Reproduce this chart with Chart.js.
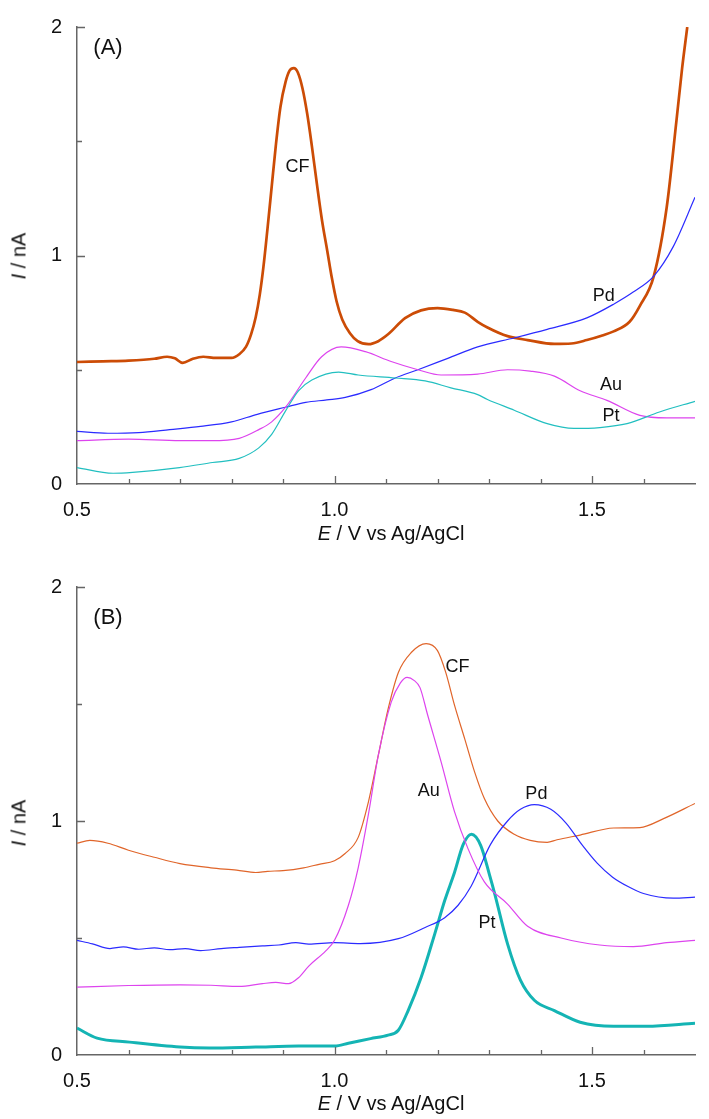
<!DOCTYPE html>
<html>
<head>
<meta charset="utf-8">
<script src="https://cdn.jsdelivr.net/npm/chart.js@4/dist/chart.umd.min.js"></script>
<style>
  html, body { margin: 0; padding: 0; background: #fff; }
  body { width: 709px; height: 1119px; position: relative; overflow: hidden; font-family: "Liberation Sans", Arial, sans-serif; color: #111; }
  .panel { position: absolute; left: 0; width: 709px; }
  .txt { position: absolute; transform: translate(-50%, -50%); white-space: nowrap; }
  .ytitle { transform: translate(-50%, -50%) rotate(-90deg); }
</style>
</head>
<body>
<div class="panel" style="top:0;height:560px"><canvas id="chartA" width="709" height="560"></canvas></div>
<div class="panel" style="top:560px;height:559px"><canvas id="chartB" width="709" height="559"></canvas></div>

<div class="txt" style="left:108px;top:47px;font-size:22px">(A)</div>
<div class="txt" style="left:108px;top:617px;font-size:22px">(B)</div>
<div class="txt" style="left:391px;top:533px;font-size:20px"><i>E</i> / V vs Ag/AgCl</div>
<div class="txt" style="left:391px;top:1103px;font-size:20px"><i>E</i> / V vs Ag/AgCl</div>
<div class="txt ytitle" style="left:19px;top:256px;font-size:20px"><i>I</i> / nA</div>
<div class="txt ytitle" style="left:19px;top:823px;font-size:20px"><i>I</i> / nA</div>

<script>
// axis ranges and tick labels
const xMin = 0.5, xMax = 1.7, xStep = 0.1;
const yMin = 0, yMax = 2, yStep = 0.5;
const xTickLabels = ['0.5', '1.0', '1.5'];
const yTickLabels = ['0', '1', '2'];

// panel A, [E (V), I (nA)]
const aCF = [[0.50,0.534],[0.55,0.537],[0.60,0.540],[0.65,0.548],[0.675,0.557],[0.69,0.550],[0.705,0.530],[0.725,0.548],[0.745,0.557],[0.77,0.552],[0.80,0.552],[0.815,0.568],[0.828,0.60],[0.838,0.655],[0.847,0.73],[0.855,0.83],[0.862,0.95],[0.870,1.12],[0.878,1.30],[0.886,1.48],[0.895,1.65],[0.905,1.76],[0.913,1.81],[0.921,1.82],[0.929,1.80],[0.938,1.73],[0.947,1.62],[0.956,1.48],[0.966,1.31],[0.976,1.15],[0.986,1.02],[0.995,0.90],[1.004,0.80],[1.015,0.72],[1.03,0.66],[1.045,0.625],[1.066,0.612],[1.085,0.625],[1.104,0.655],[1.137,0.726],[1.168,0.76],[1.20,0.77],[1.23,0.762],[1.253,0.75],[1.278,0.71],[1.297,0.685],[1.336,0.647],[1.375,0.63],[1.427,0.613],[1.46,0.615],[1.49,0.63],[1.52,0.65],[1.542,0.668],[1.573,0.71],[1.593,0.78],[1.62,0.91],[1.645,1.21],[1.664,1.59],[1.675,1.82],[1.685,2.0]];
const aPd = [[0.50,0.23],[0.56,0.222],[0.62,0.225],[0.68,0.238],[0.74,0.252],[0.80,0.272],[0.85,0.305],[0.905,0.336],[0.944,0.357],[0.985,0.368],[1.021,0.379],[1.071,0.413],[1.118,0.464],[1.162,0.50],[1.22,0.55],[1.278,0.60],[1.35,0.64],[1.413,0.677],[1.49,0.727],[1.542,0.787],[1.58,0.84],[1.62,0.91],[1.658,1.04],[1.70,1.255]];
const aAu = [[0.50,0.19],[0.60,0.196],[0.70,0.19],[0.76,0.19],[0.815,0.20],[0.853,0.238],[0.878,0.272],[0.905,0.336],[0.944,0.464],[0.975,0.557],[1.013,0.60],[1.06,0.579],[1.11,0.536],[1.162,0.50],[1.207,0.477],[1.278,0.481],[1.336,0.50],[1.38,0.494],[1.427,0.472],[1.477,0.408],[1.529,0.366],[1.593,0.30],[1.645,0.289],[1.70,0.289]];
const aPt = [[0.50,0.072],[0.57,0.047],[0.608,0.051],[0.699,0.072],[0.763,0.094],[0.815,0.112],[0.853,0.158],[0.878,0.217],[0.905,0.32],[0.93,0.408],[0.956,0.455],[1.008,0.49],[1.046,0.477],[1.118,0.464],[1.176,0.451],[1.226,0.421],[1.278,0.391],[1.297,0.37],[1.349,0.323],[1.413,0.264],[1.465,0.243],[1.515,0.247],[1.568,0.264],[1.631,0.315],[1.70,0.362]];

// panel B
const bCF = [[0.50,0.905],[0.525,0.917],[0.56,0.905],[0.60,0.875],[0.65,0.845],[0.70,0.818],[0.76,0.80],[0.81,0.79],[0.847,0.78],[0.87,0.785],[0.90,0.788],[0.94,0.80],[0.97,0.815],[1.0,0.83],[1.02,0.86],[1.046,0.93],[1.066,1.083],[1.085,1.28],[1.104,1.478],[1.124,1.635],[1.149,1.72],[1.178,1.758],[1.20,1.728],[1.216,1.635],[1.233,1.495],[1.253,1.35],[1.272,1.21],[1.291,1.096],[1.317,1.0],[1.349,0.943],[1.38,0.917],[1.413,0.909],[1.432,0.92],[1.477,0.94],[1.542,0.97],[1.593,0.972],[1.639,1.01],[1.70,1.075]];
const bPd = [[0.50,0.49],[0.53,0.475],[0.564,0.455],[0.59,0.462],[0.62,0.452],[0.65,0.458],[0.68,0.45],[0.71,0.455],[0.74,0.446],[0.78,0.455],[0.815,0.46],[0.86,0.466],[0.892,0.47],[0.925,0.48],[0.95,0.474],[1.0,0.48],[1.05,0.476],[1.124,0.497],[1.176,0.545],[1.214,0.587],[1.24,0.64],[1.265,0.72],[1.303,0.90],[1.336,1.0],[1.361,1.05],[1.388,1.07],[1.42,1.05],[1.45,0.99],[1.48,0.90],[1.51,0.82],[1.54,0.76],[1.57,0.72],[1.60,0.69],[1.658,0.67],[1.70,0.675]];
const bAu = [[0.50,0.29],[0.60,0.297],[0.70,0.30],[0.76,0.298],[0.815,0.293],[0.86,0.305],[0.886,0.31],[0.911,0.305],[0.93,0.33],[0.95,0.38],[0.983,0.445],[1.0,0.49],[1.027,0.64],[1.046,0.80],[1.066,1.03],[1.085,1.28],[1.11,1.507],[1.128,1.59],[1.141,1.614],[1.155,1.60],[1.166,1.57],[1.181,1.452],[1.207,1.253],[1.233,1.04],[1.259,0.883],[1.291,0.74],[1.336,0.645],[1.375,0.55],[1.44,0.50],[1.515,0.47],[1.58,0.463],[1.645,0.48],[1.70,0.49]];
const bPt = [[0.50,0.115],[0.539,0.072],[0.602,0.055],[0.70,0.034],[0.757,0.03],[0.847,0.034],[0.93,0.038],[1.0,0.038],[1.027,0.05],[1.07,0.07],[1.104,0.085],[1.124,0.106],[1.143,0.19],[1.168,0.33],[1.195,0.52],[1.214,0.66],[1.233,0.78],[1.25,0.90],[1.266,0.943],[1.284,0.895],[1.301,0.77],[1.311,0.69],[1.336,0.475],[1.361,0.32],[1.388,0.234],[1.427,0.19],[1.477,0.14],[1.542,0.123],[1.606,0.123],[1.70,0.136]];

// curve labels
const seriesNames = ['CF', 'Pd', 'Au', 'Pt'];
const aLabelE = [0.928, 1.523, 1.537, 1.537];
const aLabelI = [1.389, 0.821, 0.434, 0.298];
const bLabelE = [1.239, 1.392, 1.183, 1.296];
const bLabelI = [1.656, 1.117, 1.13, 0.563];

function pts(arr) { return arr.map(p => ({x: p[0], y: p[1]})); }

function ds(arr, color, width) {
  return {data: pts(arr), borderColor: color, borderWidth: width, pointRadius: 0,
          cubicInterpolationMode: 'monotone', fill: false};
}

function isMajor(v, unit) {
  return Math.abs(v / unit - Math.round(v / unit)) < 1e-6;
}

// ticks point inward, long at labelled values
const inwardTicks = {
  id: 'inwardTicks',
  afterDraw(chart) {
    const ctx = chart.ctx, xs = chart.scales.x, ys = chart.scales.y;
    const area = chart.chartArea;
    ctx.save();
    ctx.strokeStyle = '#666';
    ctx.lineWidth = 1.3;
    ctx.beginPath();
    xs.ticks.forEach(t => {
      if (t.value >= xMax - 1e-6 || t.value <= xMin + 1e-6) return;
      const px = Math.round(xs.getPixelForValue(t.value)) + 0.5;
      const len = isMajor(t.value, 0.5) ? 8 : 5;
      ctx.moveTo(px, area.bottom);
      ctx.lineTo(px, area.bottom - len);
    });
    ys.ticks.forEach(t => {
      if (t.value <= yMin + 1e-6) return;
      const py = Math.round(ys.getPixelForValue(t.value)) + 0.5;
      const len = isMajor(t.value, 1) ? 8 : 5;
      ctx.moveTo(area.left, py);
      ctx.lineTo(area.left + len, py);
    });
    ctx.stroke();
    ctx.restore();
  }
};

const curveLabels = {
  id: 'curveLabels',
  afterDatasetsDraw(chart, args, opts) {
    const ctx = chart.ctx, xs = chart.scales.x, ys = chart.scales.y;
    ctx.save();
    ctx.fillStyle = '#111';
    ctx.font = '18px "Liberation Sans", Arial, sans-serif';
    ctx.textAlign = 'center';
    ctx.textBaseline = 'middle';
    opts.names.forEach((n, i) => {
      ctx.fillText(n, xs.getPixelForValue(opts.e[i]), ys.getPixelForValue(opts.i[i]));
    });
    ctx.restore();
  }
};

function makeChart(id, datasets, padTop, xHeight, le, li) {
  return new Chart(document.getElementById(id), {
    type: 'line',
    data: {datasets},
    plugins: [inwardTicks, curveLabels],
    options: {
      responsive: false,
      animation: false,
      layout: {padding: {top: padTop, right: 11, left: 0, bottom: 0}},
      plugins: {
        legend: {display: false},
        tooltip: {enabled: false},
        curveLabels: {names: seriesNames, e: le, i: li}
      },
      scales: {
        x: {
          type: 'linear', min: xMin, max: xMax,
          grid: {display: false, drawTicks: false},
          border: {display: true, color: '#666', width: 1.5},
          ticks: {
            stepSize: xStep, autoSkip: false, maxRotation: 0, padding: 14,
            color: '#111', font: {size: 20, family: '"Liberation Sans", Arial, sans-serif'},
            callback: v => {
              const s = v.toFixed(1);
              return xTickLabels.includes(s) ? s : '';
            }
          },
          afterFit: s => { s.height = xHeight; }
        },
        y: {
          type: 'linear', min: yMin, max: yMax,
          grid: {display: false, drawTicks: false},
          border: {display: true, color: '#666', width: 1.5},
          ticks: {
            stepSize: yStep, autoSkip: false, padding: 15,
            color: '#111', font: {size: 20, family: '"Liberation Sans", Arial, sans-serif'},
            callback: v => {
              const s = String(Math.round(v));
              return isMajor(v, 1) && yTickLabels.includes(s) ? s : '';
            }
          },
          afterFit: s => { s.width = 77; }
        }
      }
    }
  });
}

makeChart('chartA', [
  ds(aPt, '#22bfc0', 1.2),
  ds(aAu, '#dd44ee', 1.2),
  ds(aPd, '#2b2bff', 1.2),
  ds(aCF, '#cc4c06', 2.7)
], 14, 76, aLabelE, aLabelI);

makeChart('chartB', [
  ds(bAu, '#dd44ee', 1.2),
  ds(bPd, '#2b2bff', 1.2),
  ds(bCF, '#e0652a', 1.2),
  ds(bPt, '#14b4b4', 3)
], 24, 64, bLabelE, bLabelI);
</script>
</body>
</html>
